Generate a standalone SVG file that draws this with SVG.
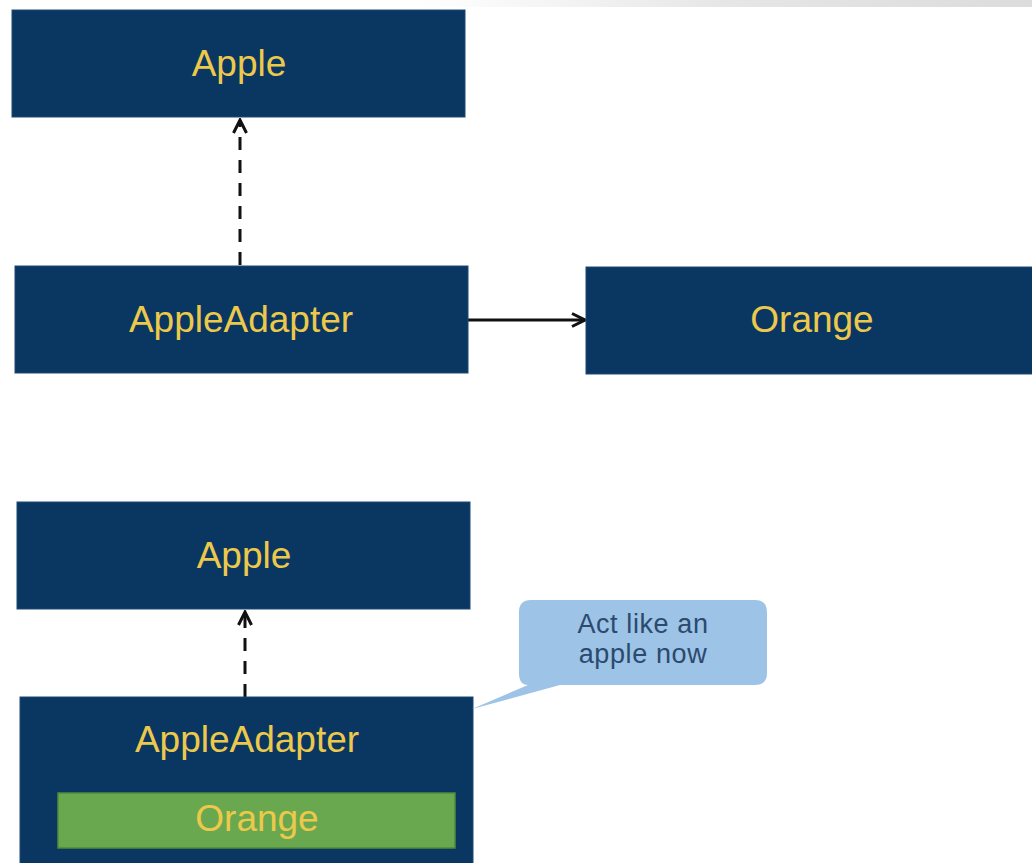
<svg xmlns="http://www.w3.org/2000/svg" width="1032" height="863" viewBox="0 0 1032 863">
  <style>
    .box { fill: #0a3662; stroke: #1d4a75; stroke-width: 1; }
    .inner { fill: #6aa84f; stroke: #4f8a3a; stroke-width: 1.5; }
    .label { font-family: "Liberation Sans", Arial, sans-serif; font-size: 37px; fill: #ecc94b; text-anchor: middle; }
    .note { fill: #9dc3e6; }
    .note-text { font-family: "Liberation Sans", Arial, sans-serif; font-size: 27px; letter-spacing: 0.6px; fill: #2b4a6e; text-anchor: middle; }
    .link { fill: none; stroke: #111; stroke-width: 3; }
    .dashed { stroke-dasharray: 13 10; }
  </style>
  <defs>
    <linearGradient id="edge" x1="0" y1="0" x2="1" y2="0">
      <stop offset="0" stop-color="#ffffff"/>
      <stop offset="0.5" stop-color="#e6e6e6"/>
      <stop offset="1" stop-color="#dcdcdc"/>
    </linearGradient>
    <marker id="open" viewBox="0 0 16 16" refX="14" refY="8" markerWidth="16" markerHeight="16" markerUnits="userSpaceOnUse" orient="auto">
      <path d="M1,1.5 L14,8 L1,14.5" fill="none" stroke="#111" stroke-width="3"/>
    </marker>
  </defs>

  <rect width="1032" height="863" fill="#ffffff"/>
  <!-- slide edge along the top -->
  <rect x="420" y="0" width="612" height="7" fill="url(#edge)"/>

  <!-- connectors -->
  <g id="connectors">
    <line class="link dashed" x1="240" y1="265" x2="240" y2="120" marker-end="url(#open)"/>
    <line class="link" x1="468" y1="320" x2="585" y2="320" stroke-width="2.5" marker-end="url(#open)"/>
    <line class="link dashed" x1="245" y1="697" x2="245" y2="612" marker-end="url(#open)"/>
  </g>

  <!-- upper diagram -->
  <g id="apple-top">
    <rect class="box" x="12" y="10" width="453" height="107"/>
    <text class="label" x="239" y="76">Apple</text>
  </g>
  <g id="adapter-top">
    <rect class="box" x="15" y="266" width="453" height="107"/>
    <text class="label" x="241" y="332">AppleAdapter</text>
  </g>
  <g id="orange-top">
    <rect class="box" x="586" y="267" width="450" height="107"/>
    <text class="label" x="812" y="332">Orange</text>
  </g>

  <!-- lower diagram -->
  <g id="apple-bottom">
    <rect class="box" x="17" y="502" width="453" height="107"/>
    <text class="label" x="244" y="568">Apple</text>
  </g>
  <g id="adapter-bottom">
    <rect class="box" x="20" y="697" width="453" height="170"/>
    <text class="label" x="247" y="752">AppleAdapter</text>
    <g id="orange-inner">
      <rect class="inner" x="58" y="793" width="397" height="55"/>
      <text class="label" x="257" y="831">Orange</text>
    </g>
  </g>

  <g id="callout">
    <path class="note" d="M531,600 H755 Q767,600 767,612 V673 Q767,685 755,685 H560 L472,709 L528,685 Q519,685 519,673 V612 Q519,600 531,600 Z"/>
    <text class="note-text" x="643" y="633">Act like an</text>
    <text class="note-text" x="643" y="663">apple now</text>
  </g>
</svg>
